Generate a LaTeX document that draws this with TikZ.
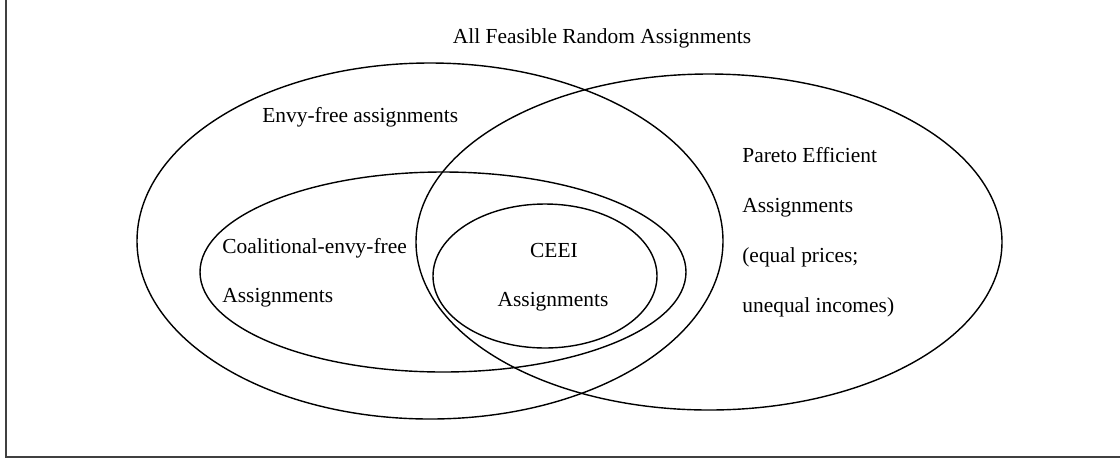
\documentclass[tikz,border=0pt]{standalone}
\usepackage{fontspec}
\setmainfont{Liberation Serif}
\usetikzlibrary{shapes.geometric}

\def\px{0.02cm}
\tikzset{
  set/.style={draw, ellipse, line width=0.8pt, inner sep=0pt, outer sep=0pt},
  lbl/.style={inner sep=0pt, font=\fontsize{12.2}{14}\selectfont}
}

\begin{document}
\begin{tikzpicture}[x=0.02cm, y=-0.02cm]
			\useasboundingbox (0,0) rectangle (1120,461);
			% frame, only left and bottom edges
			\coordinate (ftop) at (6,0);
			\coordinate (fcorner) at (6,457);
			\coordinate (fright) at (1120,457);
			\draw[black!75, line width=1.1pt] (ftop) -- (fcorner) -- (fright);
			
			\def\sets {envy/430/241/293/178, pareto/709/242/293/168, coal/443/272/243/100, ceei/545/276/112/72}  % name/cx/cy/rx/ry
			\foreach \n/\cx/\cy/\rx/\ry in \sets
			{	\node[set, minimum width=2*\rx*\px, minimum height=2*\ry*\px] (\n) at (\cx,\cy) {};
			}
			
			\node[lbl, anchor=base] (title) at (602,43) {All Feasible Random Assignments};
			\node[lbl, anchor=base west] (envytxt) at (262,122) {Envy-free assignments};
			\node[lbl, anchor=base west] (coal1) at (222,253) {Coalitional-envy-free};
			\node[lbl, anchor=base west] (coal2) at (222,302) {Assignments};
			\node[lbl, anchor=base] (ceei1) at (554,257) {CEEI};
			\node[lbl, anchor=base] (ceei2) at (553,306) {Assignments};
			
			\def\paretolines {1/162/Pareto Efficient, 2/212/Assignments, 3/262/(equal prices;, 4/312/unequal incomes)}
			\foreach \i/\y/\t in \paretolines
			{	\node[lbl, anchor=base west] (par\i) at (742,\y) {\t};
			}
\end{tikzpicture}
\end{document}
